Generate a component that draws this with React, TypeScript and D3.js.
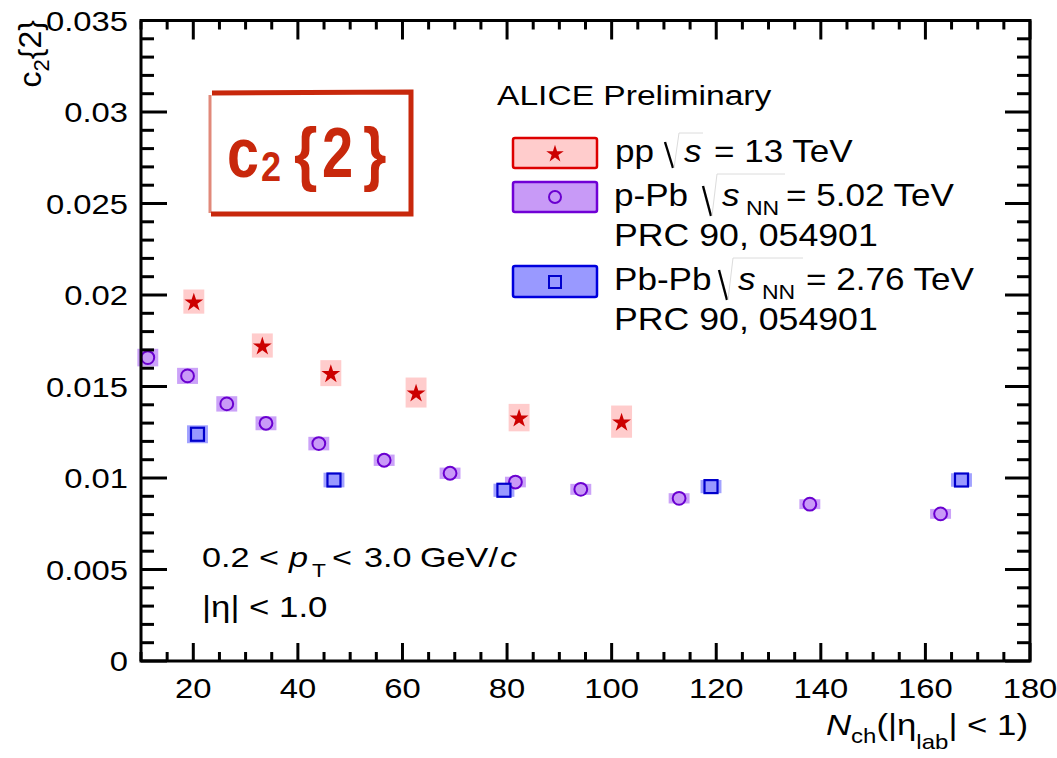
import React from "react";
import * as d3 from "d3";

const xTicks = [20, 40, 60, 80, 100, 120, 140, 160, 180];
const yTicks = [0, 0.005, 0.01, 0.015, 0.02, 0.025, 0.03, 0.035];
const yTickLabels = ["0", "0.005", "0.01", "0.015", "0.02", "0.025", "0.03", "0.035"];

const ppX = [20.1, 33.2, 46.3, 62.6, 82.3, 101.9];
const ppY = [0.01964, 0.01724, 0.01573, 0.01467, 0.0133, 0.01308];
const ppSys = [0.00066, 0.00066, 0.00071, 0.00082, 0.00075, 0.00088];

const pPbX = [11.3, 18.9, 26.4, 33.9, 44.0, 56.5, 69.1, 81.6, 94.1, 112.9, 137.9, 162.9];
const pPbY = [0.01658, 0.01558, 0.01405, 0.01299, 0.01188, 0.01097, 0.01026, 0.00978, 0.00938, 0.00889, 0.00857, 0.00804];
const pPbSys = [0.00048, 0.00044, 0.00042, 0.00038, 0.00037, 0.00031, 0.00031, 0.00029, 0.0003, 0.00028, 0.00027, 0.00027];

const PbPbX = [20.8, 46.9, 79.4, 119.0, 166.9];
const PbPbY = [0.01239, 0.00989, 0.00933, 0.00953, 0.00989];
const PbPbSys = [0.00049, 0.0004, 0.00036, 0.00036, 0.00037];

const X_HALF = 2; // systematic box half width in x units

const FONT = "'Liberation Sans', Arial, Helvetica, sans-serif";
const SX = 1.15;
const RED = "#c8280c";

function T({ x, y, size = 28, anchor = "start", italic = false, weight = "normal", fill = "#000", sx = SX, children }: any) {
  return (
    <text
      transform={`translate(${x},${y}) scale(${sx},1)`}
      fontSize={size}
      textAnchor={anchor}
      fontStyle={italic ? "italic" : "normal"}
      fontWeight={weight}
      fill={fill}
      fontFamily={FONT}
    >
      {children}
    </text>
  );
}

function Radical({ x, y, top, w, deep = 6 }: any) {
  return (
    <g>
      <line x1={x} y1={y - 20} x2={x + 8} y2={y + deep} stroke="#000" strokeWidth={2.4} />
      <polyline points={`${x + 9},${y + deep} ${x + 14},${top} ${x + 14 + w},${top}`} fill="none" stroke="#dcdcdc" strokeWidth={1} />
    </g>
  );
}

export default function App() {
  const x = d3.scaleLinear().domain([10, 180]).range([141, 1030]);
  const y = d3.scaleLinear().domain([0, 0.035]).range([661, 20.5]);
  const [x0, x1] = x.range();
  const [y0, y1] = y.range();

  const xMinor = d3.range(10, 181, 5).filter((v) => v % 20 !== 0);
  const yMinor = d3.range(0, 36, 1).map((v) => v / 1000).filter((v, i) => i % 5 !== 0);

  const star = d3.symbol().type(d3.symbolStar).size(110)();
  const starLeg = d3.symbol().type(d3.symbolStar).size(95)();

  return (
    <svg width={1057} height={758} style={{ position: "absolute", left: 0, top: 0, background: "#fff" }}>
      <rect x={0} y={0} width={1057} height={758} fill="#fff" />

      {/* systematic boxes */}
      {pPbX.map((v, i) => (
        <rect key={"pb" + i} x={x(v - X_HALF)} width={x(v + X_HALF) - x(v - X_HALF)}
          y={y(pPbY[i] + pPbSys[i])} height={y(pPbY[i] - pPbSys[i]) - y(pPbY[i] + pPbSys[i])}
          fill="#b57af5" fillOpacity={0.7} />
      ))}
      {PbPbX.map((v, i) => (
        <rect key={"bb" + i} x={x(v - X_HALF)} width={x(v + X_HALF) - x(v - X_HALF)}
          y={y(PbPbY[i] + PbPbSys[i])} height={y(PbPbY[i] - PbPbSys[i]) - y(PbPbY[i] + PbPbSys[i])}
          fill="#7a7aff" fillOpacity={0.7} />
      ))}
      {ppX.map((v, i) => (
        <rect key={"pp" + i} x={x(v - X_HALF)} width={x(v + X_HALF) - x(v - X_HALF)}
          y={y(ppY[i] + ppSys[i])} height={y(ppY[i] - ppSys[i]) - y(ppY[i] + ppSys[i])}
          fill="#ffcccc" />
      ))}

      {/* markers */}
      {pPbX.map((v, i) => (
        <circle key={"pc" + i} cx={x(v)} cy={y(pPbY[i])} r={6.4} fill="#c99af7" stroke="#6a00d0" strokeWidth={2} />
      ))}
      {PbPbX.map((v, i) => (
        <rect key={"bs" + i} x={x(v) - 6.5} y={y(PbPbY[i]) - 6.5} width={13} height={13} fill="#9999ff" stroke="#0000cc" strokeWidth={2.2} />
      ))}
      {ppX.map((v, i) => (
        <path key={"ps" + i} d={star!} transform={`translate(${x(v)},${y(ppY[i]) + 1})`} fill="#cc0000" />
      ))}

      {/* frame and ticks */}
      <g stroke="#000" strokeWidth={3}>
        {xTicks.map((t) => (
          <g key={"xt" + t}>
            <line x1={x(t)} x2={x(t)} y1={y0} y2={y0 - 18} />
            <line x1={x(t)} x2={x(t)} y1={y1} y2={y1 + 19} />
          </g>
        ))}
        {xMinor.map((t) => (
          <g key={"xm" + t}>
            <line x1={x(t)} x2={x(t)} y1={y0} y2={y0 - 9} />
            <line x1={x(t)} x2={x(t)} y1={y1} y2={y1 + 9} />
          </g>
        ))}
        {yTicks.map((t) => (
          <g key={"yt" + t}>
            <line x1={x0} x2={x0 + 26} y1={y(t)} y2={y(t)} />
            <line x1={x1} x2={x1 - 25} y1={y(t)} y2={y(t)} />
          </g>
        ))}
        {yMinor.map((t) => (
          <g key={"ym" + t}>
            <line x1={x0} x2={x0 + 13} y1={y(t)} y2={y(t)} />
            <line x1={x1} x2={x1 - 13} y1={y(t)} y2={y(t)} />
          </g>
        ))}
        <rect x={x0} y={y1} width={x1 - x0} height={y0 - y1} fill="none" strokeLinejoin="miter" />
      </g>

      {/* tick labels */}
      {xTicks.map((t) => (
        <T key={"xl" + t} x={x(t)} y={698} anchor="middle" size={28.5} sx={1.15}>{t}</T>
      ))}
      {yTicks.map((t, i) => (
        <T key={"yl" + t} x={128} y={y(t) + 10} anchor="end" size={28.5} sx={1.15}>{yTickLabels[i]}</T>
      ))}

      {/* axis titles */}
      <T x={1028} y={735} anchor="end" size={29} sx={1.2}>
        <tspan fontStyle="italic">N</tspan>
        <tspan fontSize={20} dy={8}>ch</tspan>
        <tspan dy={-8}>(|η</tspan>
        <tspan fontSize={20} dy={14}>lab</tspan>
        <tspan dy={-14}>| &lt; 1)</tspan>
      </T>
      <text transform="translate(41,20) rotate(-90)" textAnchor="end" fontSize={32} fontFamily={FONT}>
        c<tspan fontSize={22} dy={8}>2</tspan><tspan dy={-8}>{"{2}"}</tspan>
      </text>

      {/* c2{2} badge */}
      <g>
        <path d="M 212 93 L 411 92 L 411 214 L 211 214" fill="none" stroke={RED} strokeWidth={5} />
        <line x1={210} y1={95} x2={210} y2={213} stroke={RED} strokeWidth={3} strokeOpacity={0.55} />
        <T x={227} y={177} size={70} weight="bold" fill={RED} sx={0.82}>c</T>
        <T x={261} y={181} size={42} weight="bold" fill={RED} sx={0.86}>2</T>
        <T x={294} y={177} size={70} weight="bold" fill={RED} sx={0.86}>{"{"}</T>
        <T x={322} y={177} size={70} weight="bold" fill={RED} sx={0.8}>2</T>
        <T x={363} y={177} size={70} weight="bold" fill={RED} sx={0.86}>{"}"}</T>
      </g>

      {/* legend */}
      <T x={497} y={105} size={28} sx={1.2}>ALICE Preliminary</T>

      <rect x={513} y={138} width={84} height={30} rx={2} fill="#ffcccc" stroke="#dd0000" strokeWidth={2.5} />
      <path d={starLeg!} transform="translate(555,154)" fill="#cc0000" />
      <T x={615} y={162} size={30.5} sx={1.15}>pp</T>
      <Radical x={665} y={162} top={133} w={24} />
      <T x={684} y={162} size={30.5} sx={1.15} italic>s</T>
      <T x={714} y={162} size={30.5} sx={1.15}>= 13 TeV</T>

      <rect x={513} y={182} width={84} height={30} rx={2} fill="#c89af7" stroke="#7000d6" strokeWidth={2.5} />
      <circle cx={555} cy={197} r={6} fill="#c89af7" stroke="#6a00d0" strokeWidth={2} />
      <T x={614} y={206} size={30.5} sx={1.15}>p-Pb</T>
      <Radical x={703} y={206} top={174} w={68} deep={10} />
      <T x={722} y={206} size={30.5} sx={1.15} italic>s</T>
      <T x={746} y={215} size={20} sx={1.15}>NN</T>
      <T x={786} y={206} size={30.5} sx={1.15}>= 5.02 TeV</T>
      <T x={614} y={246} size={30.5} sx={1.17}>PRC 90, 054901</T>

      <rect x={513} y={266} width={84} height={31} rx={2} fill="#9999ff" stroke="#0000dd" strokeWidth={2.5} />
      <rect x={549} y={276} width={12} height={12} fill="#9999ff" stroke="#0000cc" strokeWidth={2} />
      <T x={614} y={290} size={30.5} sx={1.15}>Pb-Pb</T>
      <Radical x={719} y={290} top={258} w={70} deep={10} />
      <T x={738} y={290} size={30.5} sx={1.15} italic>s</T>
      <T x={762} y={299} size={20} sx={1.15}>NN</T>
      <T x={806} y={290} size={30.5} sx={1.15}>= 2.76 TeV</T>
      <T x={614} y={330} size={30.5} sx={1.17}>PRC 90, 054901</T>

      {/* cuts */}
      <T x={202} y={567} size={28.5} sx={1.2}>0.2 &lt;</T>
      <T x={289} y={567} size={28.5} sx={1.2} italic>p</T>
      <T x={312} y={577} size={19} sx={1.2}>T</T>
      <T x={332} y={567} size={28.5} sx={1.2}>&lt;</T>
      <T x={364} y={567} size={28.5} sx={1.2}>3.0</T>
      <T x={420} y={567} size={28.5} sx={1.2}>GeV/</T>
      <T x={500} y={567} size={28.5} sx={1.2} italic>c</T>
      <T x={202} y={617} size={29} sx={1.2}>|η| &lt; 1.0</T>
    </svg>
  );
}
